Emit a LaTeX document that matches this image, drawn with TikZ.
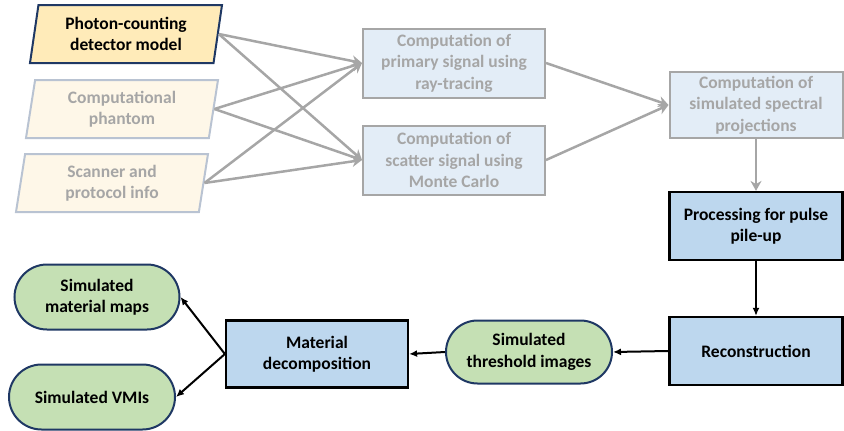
\documentclass[tikz,border=0pt]{standalone}
\usepackage{fontspec}
\setmainfont{Carlito}
\usetikzlibrary{arrows.meta}
\usetikzlibrary{positioning}
\usetikzlibrary{shapes.geometric}
\usetikzlibrary{shapes.misc}
\definecolor{navy}{HTML}{1F3864}
\definecolor{paleblue}{HTML}{E3EDF7}
\definecolor{midblue}{HTML}{BDD7EE}
\definecolor{palegreen}{HTML}{C5E0B4}
\definecolor{gold}{HTML}{FFEBB9}
\definecolor{palegold}{HTML}{FEF7E8}
\definecolor{greyline}{HTML}{A6A6A6}
\definecolor{greyedge}{HTML}{B9C3D2}
\tikzset{
    every node/.style = {font=\fontsize{17.5}{21.5}\selectfont\bfseries, align=center, inner sep=0},
    input/.style = {shape=trapezium, trapezium left angle=76, trapezium right angle=104,
        trapezium stretches body, line width=2pt, minimum width=192pt, minimum height=58pt},
    faded/.style = {draw=greyline, fill=paleblue, text=greyline, line width=2pt},
    stage/.style = {draw=black, fill=midblue, line width=2.2pt},
    result/.style = {shape=rounded rectangle, draw=navy, fill=palegreen, line width=2pt}
}
\tikzset{
    gray/.style = {draw=greyline, line width=2.5pt, -{Stealth[length=10pt,width=11pt]}},
    flow/.style = {line width=2pt, -{Latex[length=8pt,width=7pt]}}
}

\begin{document}
\begin{tikzpicture}[x=1pt,y=-1pt]
    \useasboundingbox (0,0) rectangle (844,431);
    % Inputs
    \node[input, draw=navy, fill=gold] (det) at (126,34) {Photon-counting\\detector model};
    \node[input, draw=greyedge, fill=palegold, text=greyline] (phan) at (122,109) {Computational\\phantom};
    \node[input, draw=greyedge, fill=palegold, text=greyline] (scan) at (112,183) {Scanner and\\protocol info};
    % Simulation
    \node[faded, minimum width=182pt, minimum height=69pt] (prim) at (454,63) {Computation of\\primary signal using\\ray-tracing};
    \node[faded, minimum width=182pt, minimum height=69pt] (scat) at (454,160) {Computation of\\scatter signal using\\Monte Carlo};
    \node[faded, minimum width=173pt, minimum height=66pt] (proj) at (756,105) {Computation of\\simulated spectral\\projections};
    % Processing
    \node[stage, minimum width=173pt, minimum height=68pt] (pile) at (756,226) {Processing for pulse\\pile-up};
    \node[stage, minimum width=173pt, minimum height=68pt] (recon) at (756,351) {Reconstruction};
    \node[result, minimum width=166pt, minimum height=63pt] (thresh) at (529,352) {Simulated\\threshold images};
    \node[stage, minimum width=182pt, minimum height=67pt] (decomp) at (317,354) {Material\\decomposition};
    \node[result, minimum width=165pt, minimum height=65pt] (maps) at (97,297) {Simulated\\material maps};
    \node[result, minimum width=166pt, minimum height=65pt] (vmi) at (92,397) {Simulated VMIs};
    % Gray arrows
    \foreach \src in {det,phan,scan}
        \foreach \dest in {prim,scat}
            \draw[gray] (\src.east) to (\dest.west);
    \foreach \src/\dest in {prim.east/proj.west,scat.east/proj.west,proj.south/pile.north}
        \draw[gray] (\src) to (\dest);
    % Black arrows
    \foreach \src/\dest in {pile.south/recon.north,recon.west/thresh.east,thresh.west/decomp.east,decomp.west/maps.east,decomp.west/vmi.east}
        \draw[flow] (\src) to (\dest);
\end{tikzpicture}
\end{document}
